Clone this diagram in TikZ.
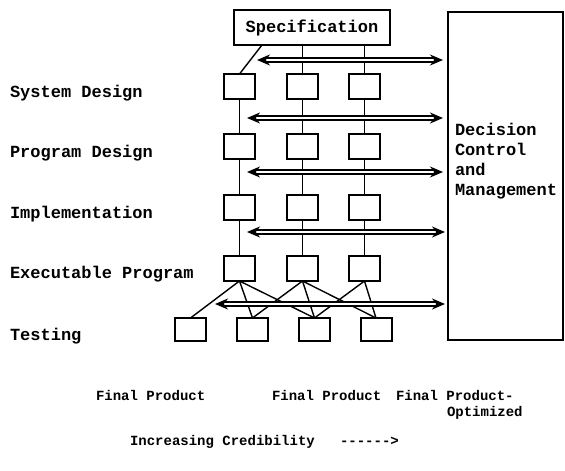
\documentclass[tikz,border=0pt]{standalone}
\usepackage{fontspec}
\setmainfont{Liberation Mono}[Ligatures=TeXOff]
\usetikzlibrary{arrows.meta}
\tikzset{
  every node/.style={inner sep=0pt, outer sep=0pt},
  stagebox/.style={draw, line width=2pt, minimum width=31pt, minimum height=25pt},
  testbox/.style={draw, line width=2pt, minimum width=31pt, minimum height=23pt},
  link/.style={line width=1.4pt},
  flow/.style={double, line width=1.6pt, double distance=2pt,
    {Stealth[length=13pt,width=11pt]}-{Stealth[length=13pt,width=11pt]}},
  phase/.style={anchor=base west, font=\bfseries\fontsize{17}{17}\selectfont},
  outcome/.style={anchor=base west, font=\bfseries\fontsize{14}{14}\selectfont},
}
\begin{document}
\begin{tikzpicture}[x=1pt, y=-1pt]
\useasboundingbox (0,0) rectangle (565,471);

% specification and management blocks
\node[draw, line width=2pt, minimum width=156pt, minimum height=35pt,
      font=\bfseries\fontsize{17}{17}\selectfont] (spec) at (312,27.5) {Specification};
\node[draw, line width=1.8pt, minimum width=115pt, minimum height=328pt] (dcm) at (505.5,176) {};
\node[anchor=north west, align=left, font=\bfseries\fontsize{17}{20}\selectfont]
  (dcmtext) at (455,123) {Decision\\Control\\and\\Management};

% phase labels
\node[phase] (lsd) at (10,97) {System Design};
\node[phase] (lpd) at (10,157) {Program Design};
\node[phase] (lim) at (10,218) {Implementation};
\node[phase] (lex) at (10,278) {Executable Program};
\node[phase] (lte) at (10,340) {Testing};

% stage boxes, three parallel columns
\foreach \c/\x in {1/239.5, 2/302.5, 3/364.5} {
  \node[stagebox] (s\c) at (\x,86.5) {};
  \node[stagebox] (p\c) at (\x,146) {};
  \node[stagebox] (i\c) at (\x,207) {};
  \node[stagebox] (e\c) at (\x,268.5) {};
}
% testing boxes
\foreach \t/\x in {1/190.5, 2/252.5, 3/314.5, 4/376} {
  \node[testbox] (t\t) at (\x,329.5) {};
}

% vertical links
\coordinate (sp1) at ([xshift=-50pt]spec.south);
\draw[link] (sp1) -- (s1.north);
\draw[link] (spec.south -| s2) -- (s2.north);
\draw[link] (spec.south -| s3) -- (s3.north);
\foreach \c in {1,2,3} {
  \draw[link] (s\c.south) -- (p\c.north);
  \draw[link] (p\c.south) -- (i\c.north);
  \draw[link] (i\c.south) -- (e\c.north);
}
% fan-out to testing
\foreach \e/\t in {1/1, 1/2, 1/3, 2/2, 2/3, 2/4, 3/3, 3/4} {
  \draw[link] (e\e.south) -- (t\t.north);
}

% horizontal exchange arrows
\coordinate (a1l) at (257,60);  \coordinate (a1r) at (443,60);
\coordinate (a2l) at (247,118); \coordinate (a2r) at (443,118);
\coordinate (a3l) at (247,172); \coordinate (a3r) at (443,172);
\coordinate (a4l) at (247,232); \coordinate (a4r) at (445,232);
\coordinate (a5l) at (215,304); \coordinate (a5r) at (445,304);
\foreach \k in {1,...,5} {
  \draw[flow] (a\k l) -- (a\k r);
}

% outcomes
\node[outcome] (f1) at (96,400) {Final Product};
\node[outcome] (f2) at (272,400) {Final Product};
\node[outcome] (f3) at (396,400) {Final Product-};
\node[outcome] (f3b) at (447,416) {Optimized};
\node[outcome] (cred) at (130,445) {Increasing Credibility\ \ \ ------>};
\end{tikzpicture}
\end{document}
